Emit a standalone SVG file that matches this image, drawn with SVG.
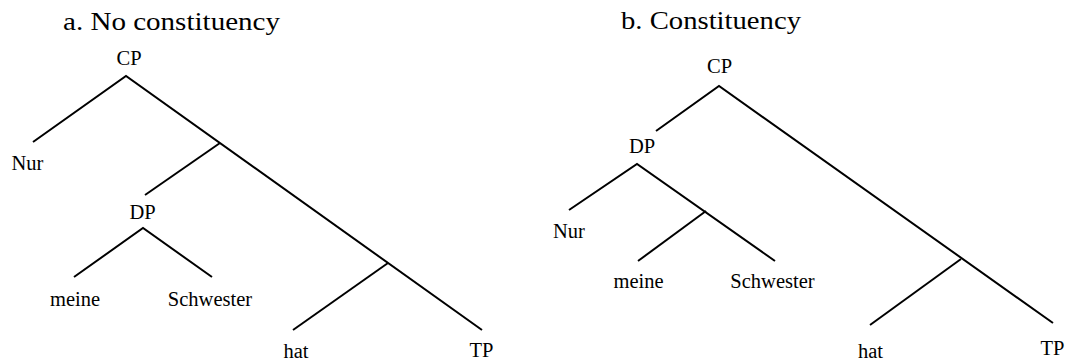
<svg xmlns="http://www.w3.org/2000/svg" width="1067" height="360" viewBox="0 0 1067 360">
<style>
.t{font-family:"Liberation Serif","Times New Roman",serif;font-size:26px;fill:#000}
.l{font-family:"Liberation Serif","Times New Roman",serif;font-size:20.5px;fill:#000;text-anchor:middle}
.e{stroke:#000;stroke-width:2;fill:none;stroke-linecap:butt}
</style>
<rect width="1067" height="360" fill="#fff"/>
<text class="t" x="63" y="30" textLength="217" lengthAdjust="spacingAndGlyphs">a. No constituency</text>
<text class="t" x="621" y="29" textLength="180" lengthAdjust="spacingAndGlyphs">b. Constituency</text>
<g id="connectors">
<!-- tree a -->
<polyline class="e" points="33,142 126,76 482,330"/>
<line class="e" x1="220" y1="143" x2="145" y2="195"/>
<polyline class="e" points="74,277 143,228 212,277"/>
<line class="e" x1="388" y1="263" x2="293" y2="330"/>
<!-- tree b -->
<polyline class="e" points="656,131 719,86 1053,323"/>
<polyline class="e" points="569,210 637,164 775,261"/>
<line class="e" x1="706" y1="211" x2="638" y2="261"/>
<line class="e" x1="961" y1="259" x2="870" y2="325"/>
</g>
<g id="a-CP"><text class="l" x="129" y="65">CP</text></g>
<g id="a-Nur"><text class="l" x="27.5" y="170">Nur</text></g>
<g id="a-DP"><text class="l" x="142.5" y="219">DP</text></g>
<g id="a-meine"><text class="l" x="75" y="306">meine</text></g>
<g id="a-Schwester"><text class="l" x="210" y="306">Schwester</text></g>
<g id="a-hat"><text class="l" x="296" y="358">hat</text></g>
<g id="a-TP"><text class="l" x="481.5" y="357">TP</text></g>
<g id="b-CP"><text class="l" x="719.5" y="73">CP</text></g>
<g id="b-DP"><text class="l" x="642" y="153">DP</text></g>
<g id="b-Nur"><text class="l" x="569" y="238">Nur</text></g>
<g id="b-meine"><text class="l" x="638.5" y="288">meine</text></g>
<g id="b-Schwester"><text class="l" x="772.5" y="288">Schwester</text></g>
<g id="b-hat"><text class="l" x="870.5" y="358">hat</text></g>
<g id="b-TP"><text class="l" x="1052.5" y="355">TP</text></g>
</svg>
